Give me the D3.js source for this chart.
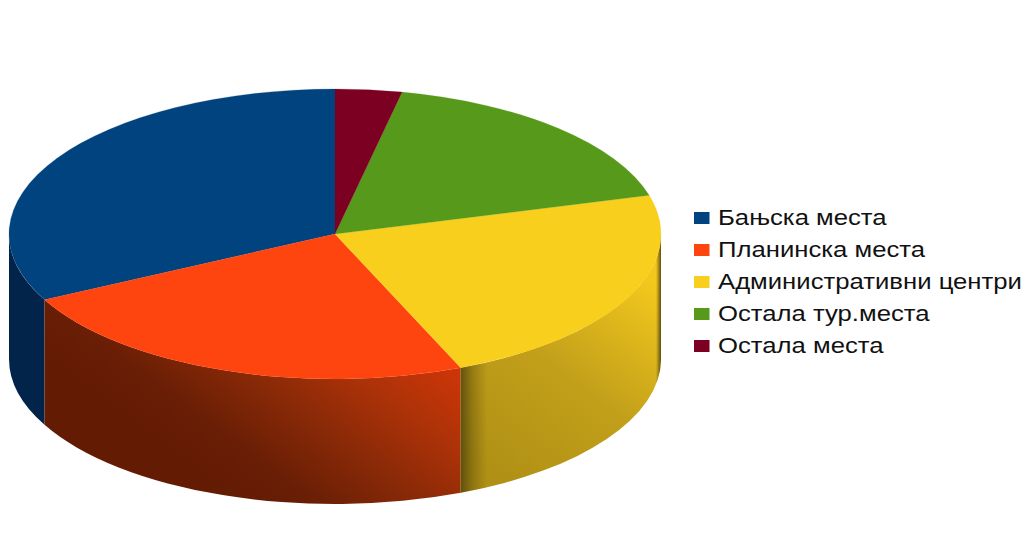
<!DOCTYPE html>
<html>
<head>
<meta charset="utf-8">
<script src="https://cdn.jsdelivr.net/npm/d3@7/dist/d3.min.js"></script>
<style>
  html, body { margin: 0; padding: 0; background: #fff; }
  svg { display: block; }
  text { font-family: "Liberation Sans", Arial, sans-serif; fill: #111; }
</style>
</head>
<body>
<svg id="chart" width="1035" height="546"></svg>
<script>
// Share of places by type
const categories = ["Бањска места", "Планинска места", "Административни центри", "Остала тур.места", "Остала места"];
const shares = [32.5, 23.8, 23.0, 17.4, 3.3];
const topColors = ["#00437f", "#ff450f", "#f9cf1e", "#579a1b", "#7b0021"];

const width = 1035, height = 546;
const left = 9, right = 661, top_ = 89, bottom = 379, depth = 125;

const xScale = d3.scaleLinear().domain([-1, 1]).range([left, right]);
const yScale = d3.scaleLinear().domain([-1, 1]).range([top_, bottom]);
const cx = xScale(0), cy = yScale(0);
const rx = xScale(1) - cx, ry = yScale(1) - cy;

const svg = d3.select("#chart");
const defs = svg.append("defs");

function addGradient(id, x1, y1, x2, y2, stops) {
  const g = defs.append("linearGradient").attr("id", id)
    .attr("gradientUnits", "userSpaceOnUse")
    .attr("x1", x1).attr("y1", y1).attr("x2", x2).attr("y2", y2);
  g.selectAll("stop").data(stops).join("stop")
    .attr("offset", d => d[0]).attr("stop-color", d => d[1]).attr("stop-opacity", d => d[2] ?? 1);
}

// Side-wall lighting: dark at the lower left, brightest towards the upper right
addGradient("wallOrange", 305, 560, 455, 360, [[0, "#631b04"], [0.2, "#691e05"], [0.45, "#872907"], [0.72, "#ad3208"], [1, "#d03608"]]);
addGradient("wallYellow", 500, 480, 650, 280, [[0, "#b09015"], [0.5, "#c2a01a"], [1, "#f3c81d"]]);
addGradient("shadeYellowL", 460, 0, 487, 0, [[0, "#3c3208", 0.7], [0.45, "#3c3208", 0.3], [1, "#3c3208", 0]]);
addGradient("shadeYellowR", 656, 0, 661, 0, [[0, "#3c3208", 0], [1, "#3c3208", 0.8]]);

const wallFill = ["#02244b", "url(#wallOrange)", "url(#wallYellow)", "#2f5510", "#440012"];

// Slices run counter-clockwise from twelve o'clock
const pie = d3.pie().sort(null).startAngle(2 * Math.PI).endAngle(0);
const arcs = pie(shares);

const px = a => cx + rx * Math.sin(a);
const py = a => cy - ry * Math.cos(a);

// Outline of the visible outer wall for the front half of the ellipse
function wallPath(d) {
  const a0 = Math.max(Math.min(d.startAngle, d.endAngle), Math.PI / 2);
  const a1 = Math.min(Math.max(d.startAngle, d.endAngle), 3 * Math.PI / 2);
  if (a1 <= a0) return null;
  return `M${px(a0)},${py(a0)}`
    + `A${rx},${ry} 0 0 1 ${px(a1)},${py(a1)}`
    + `L${px(a1)},${py(a1) + depth}`
    + `A${rx},${ry} 0 0 0 ${px(a0)},${py(a0) + depth}Z`;
}

const walls = arcs.map((d, i) => ({ d: wallPath(d), i })).filter(w => w.d);

svg.append("g").selectAll("path").data(walls).join("path")
  .attr("d", w => w.d)
  .attr("fill", w => wallFill[w.i]);

// Extra shading along both ends of the lit yellow wall
const yellow = walls.filter(w => w.i === 2);
svg.append("g").selectAll("path").data(yellow).join("path")
  .attr("d", w => w.d).attr("fill", "url(#shadeYellowL)");
svg.append("g").selectAll("path").data(yellow).join("path")
  .attr("d", w => w.d).attr("fill", "url(#shadeYellowR)");

// Top face: a circular pie flattened into an ellipse
const arc = d3.arc().innerRadius(0).outerRadius(rx);
svg.append("g")
  .attr("transform", `translate(${cx},${cy}) scale(1,${ry / rx})`)
  .selectAll("path").data(arcs).join("path")
  .attr("d", arc)
  .attr("fill", (d, i) => topColors[i])
  .attr("stroke", (d, i) => topColors[i])
  .attr("stroke-width", 0.3);

// Legend, with its labels widened horizontally
const legendY = d3.scalePoint().domain(categories).range([218, 346]);
const legend = svg.append("g").selectAll("g").data(categories).join("g")
  .attr("transform", d => `translate(694,${legendY(d)})`);
legend.append("rect")
  .attr("x", 0).attr("y", -6).attr("width", 15.5).attr("height", 12)
  .attr("fill", (d, i) => topColors[i]);
legend.append("text")
  .attr("transform", "translate(24,7) scale(1.168,1)")
  .attr("font-size", 22)
  .text(d => d);
</script>
</body>
</html>
